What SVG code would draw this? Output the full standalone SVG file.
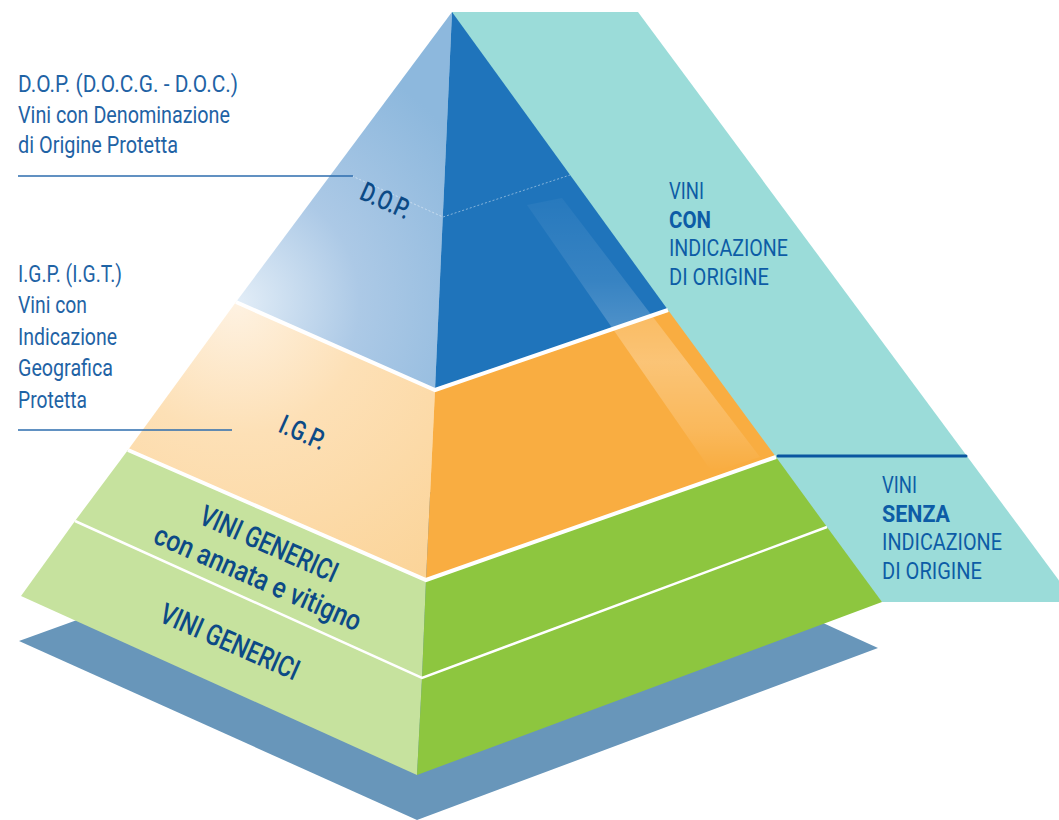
<svg xmlns="http://www.w3.org/2000/svg" width="1059" height="820" viewBox="0 0 1059 820">
<defs>
<style>
.lbl{font-family:"Liberation Sans Narrow","Roboto","Liberation Sans",sans-serif;fill:#1f63a5;font-size:24px}
.rlbl{font-family:"Liberation Sans Narrow","Roboto","Liberation Sans",sans-serif;fill:#0d5ca6;font-size:23px}
.rlbl .b{font-weight:700}
.face{font-family:"Liberation Sans Narrow","Roboto","Liberation Sans",sans-serif;fill:#0c4a86;font-weight:500;text-anchor:middle}
.ptr{stroke:#2c6dae;stroke-width:1.5;fill:none}
.sep{stroke:#ffffff;fill:none;stroke-linejoin:miter}
</style>
<radialGradient id="gDop" gradientUnits="userSpaceOnUse" cx="238" cy="302" r="270">
<stop offset="0" stop-color="#e2edf7"/>
<stop offset="0.45" stop-color="#acc9e6"/>
<stop offset="1" stop-color="#8db8dd"/>
</radialGradient>
<radialGradient id="gIgp" gradientUnits="userSpaceOnUse" cx="236" cy="302" r="330">
<stop offset="0" stop-color="#fef2e2"/>
<stop offset="0.4" stop-color="#fde0b6"/>
<stop offset="1" stop-color="#fbd499"/>
</radialGradient>
<linearGradient id="gGlare" gradientUnits="userSpaceOnUse" x1="0" y1="200" x2="0" y2="470">
<stop offset="0" stop-color="#ffffff" stop-opacity="0.04"/>
<stop offset="0.3" stop-color="#ffffff" stop-opacity="0.11"/>
<stop offset="0.6" stop-color="#ffffff" stop-opacity="0.28"/>
<stop offset="0.85" stop-color="#ffffff" stop-opacity="0.14"/>
<stop offset="1" stop-color="#ffffff" stop-opacity="0"/>
</linearGradient>
<clipPath id="cRight">
<polygon points="452,12 435,390 426,580 776,457"/>
</clipPath>
</defs>

<g id="base">
<polygon points="19,641 489,471 878,648 417,820" fill="#6896ba"/>
</g>

<g id="band-origine">
<polygon points="452,12 638,12 1075,602 882,602 452,300" fill="#9bdcd9"/>
</g>

<g id="layer-generici">
<polygon points="75,521 21,596 417,775 422,678" fill="#c6e29e"/>
<polygon points="422,678 417,775 882,602 827,527" fill="#8dc63f"/>
</g>

<g id="layer-generici-annata">
<polygon points="128,450 75,521 422,678 426,580" fill="#c6e29e"/>
<polygon points="426,580 422,678 827,527 776,457" fill="#8dc63f"/>
</g>

<g id="layer-igp">
<polygon points="236,302 128,450 426,580 435,390" fill="url(#gIgp)"/>
<polygon points="435,390 426,580 776,457 668,310" fill="#f9ad41"/>
</g>

<g id="layer-dop">
<polygon points="452,12 236,302 435,390" fill="url(#gDop)"/>
<polygon points="452,12 435,390 668,310" fill="#1f74bb"/>
</g>

<g id="glare" clip-path="url(#cRight)">
<polygon points="527,205 562,198 760,457 712,472" fill="url(#gGlare)"/>
</g>

<g id="separators">
<polyline class="sep" points="352,176 443,217 570,175" stroke-width="1" stroke-dasharray="2 2" stroke-opacity="0.45"/>
<polyline class="sep" points="75,521 422,678 827,527" stroke-width="2.5"/>
<polyline class="sep" points="128,450 426,580 776,457" stroke-width="4"/>
<polyline class="sep" points="236,302 435,390 668,310" stroke-width="4"/>
</g>

<g id="connectors">
<line class="ptr" x1="18" y1="176" x2="353" y2="176"/>
<line class="ptr" x1="18" y1="430" x2="232" y2="430"/>
<line x1="778" y1="456" x2="966" y2="456" stroke="#0a56a0" stroke-width="3" stroke-linecap="round"/>
</g>

<g id="label-dop">
<text class="lbl" x="18" y="92" textLength="220" lengthAdjust="spacingAndGlyphs">D.O.P. (D.O.C.G. - D.O.C.)</text>
<text class="lbl" x="18" y="123" textLength="212" lengthAdjust="spacingAndGlyphs">Vini con Denominazione</text>
<text class="lbl" x="18" y="153" textLength="160" lengthAdjust="spacingAndGlyphs">di Origine Protetta</text>
</g>

<g id="label-igp">
<text class="lbl" x="18" y="282" textLength="104" lengthAdjust="spacingAndGlyphs">I.G.P. (I.G.T.)</text>
<text class="lbl" x="18" y="313" textLength="69" lengthAdjust="spacingAndGlyphs">Vini con</text>
<text class="lbl" x="18" y="345" textLength="99" lengthAdjust="spacingAndGlyphs">Indicazione</text>
<text class="lbl" x="18" y="376" textLength="95" lengthAdjust="spacingAndGlyphs">Geografica</text>
<text class="lbl" x="18" y="408" textLength="69" lengthAdjust="spacingAndGlyphs">Protetta</text>
</g>

<g id="label-con">
<text class="rlbl" x="669" y="199" textLength="35" lengthAdjust="spacingAndGlyphs">VINI</text>
<text class="rlbl" x="669" y="228" textLength="42" lengthAdjust="spacingAndGlyphs"><tspan class="b">CON</tspan></text>
<text class="rlbl" x="669" y="256" textLength="119" lengthAdjust="spacingAndGlyphs">INDICAZIONE</text>
<text class="rlbl" x="669" y="285" textLength="100" lengthAdjust="spacingAndGlyphs">DI ORIGINE</text>
</g>

<g id="label-senza">
<text class="rlbl" x="882" y="493" textLength="35" lengthAdjust="spacingAndGlyphs">VINI</text>
<text class="rlbl" x="882" y="522" textLength="68" lengthAdjust="spacingAndGlyphs"><tspan class="b">SENZA</tspan></text>
<text class="rlbl" x="882" y="550" textLength="120" lengthAdjust="spacingAndGlyphs">INDICAZIONE</text>
<text class="rlbl" x="882" y="579" textLength="100" lengthAdjust="spacingAndGlyphs">DI ORIGINE</text>
</g>

<g id="face-labels">
<text class="face" font-size="27" transform="translate(382,209) rotate(24)" textLength="52" lengthAdjust="spacingAndGlyphs">D.O.P.</text>
<text class="face" font-size="27" transform="translate(299,441) rotate(24)" textLength="48" lengthAdjust="spacingAndGlyphs">I.G.P.</text>
<text class="face" font-size="29" transform="translate(265,553) rotate(24)" textLength="148" lengthAdjust="spacingAndGlyphs">VINI GENERICI</text>
<text class="face" font-size="29" transform="translate(254,587) rotate(23.6)" textLength="223" lengthAdjust="spacingAndGlyphs">con annata e vitigno</text>
<text class="face" font-size="29" transform="translate(226,651) rotate(23.7)" textLength="149" lengthAdjust="spacingAndGlyphs">VINI GENERICI</text>
</g>
</svg>
